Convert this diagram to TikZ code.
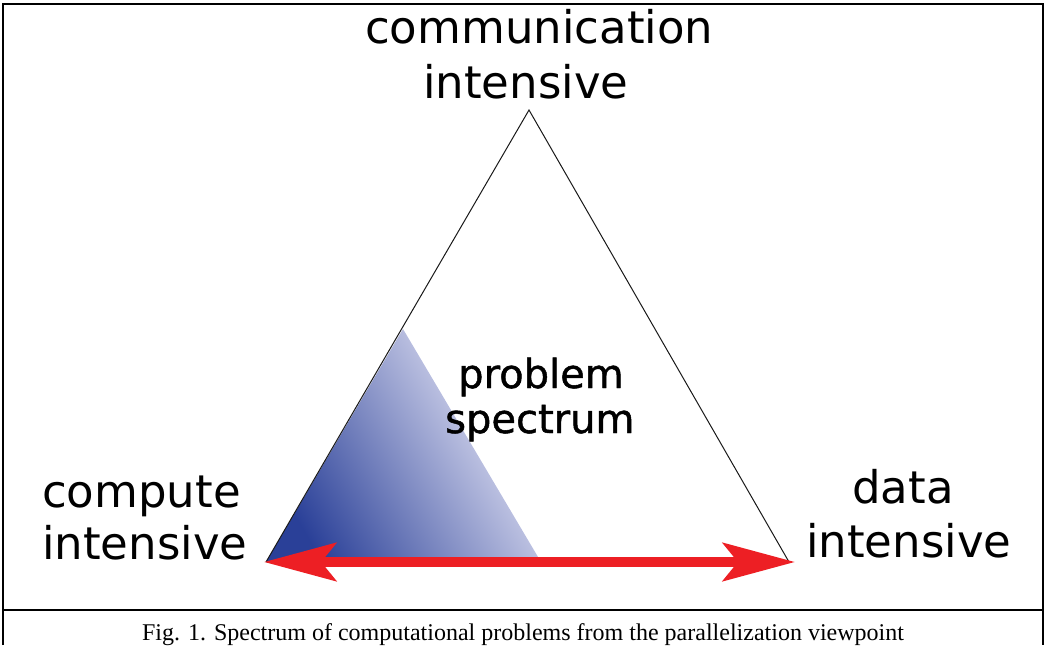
\documentclass[tikz,border=0pt]{standalone}
\usepackage{fontspec}
\setmainfont{Liberation Serif}
\newfontfamily\labfont{DejaVu Sans}
\newfontfamily\plabfont[FakeBold=1.2]{DejaVu Sans}
\usetikzlibrary{arrows.meta}
\definecolor{arrred}{RGB}{237,31,36}
\definecolor{shdark}{RGB}{42,64,152}
\definecolor{shlight}{RGB}{238,237,250}
\begin{document}
\begin{tikzpicture}[x=1pt,y=-1pt,
  lbl/.style={font=\labfont\fontsize{45}{52}\selectfont, anchor=base west, inner sep=0pt},
  plbl/.style={font=\plabfont\fontsize{40}{48}\selectfont, anchor=base west, inner sep=0pt},
  frame/.style={line width=2pt, black},
  tri/.style={line width=1pt, black!90},
  arr/.style={arrred, line width=10pt,
    {Stealth[length=72pt,width=38pt,inset=15pt]}-{Stealth[length=72pt,width=38pt,inset=15pt]}},
  captext/.style={font=\fontsize{24}{28}\selectfont, anchor=base, inner sep=0pt}]
\useasboundingbox (0,0) rectangle (1046,645);
% frame
\draw[frame] (3,645) -- (3,4) -- (1043,4) -- (1043,645);
\draw[frame] (3,610) -- (1043,610);
% corners
\coordinate (T) at (529,110);
\coordinate (L) at (266,562);
\coordinate (R) at (789,562);
\coordinate (G) at (403,329);
\coordinate (H) at (541,562);
\coordinate (AL) at (264,562);
\coordinate (AR) at (795,562);
% shaded region
\shade[left color=shdark, right color=shlight, shading angle=120] (L) -- (G) -- (H) -- cycle;
% triangle
\draw[tri] (L) -- (T) -- (R);
% arrow
\draw[arr] (AL) -- (AR);
% labels
\node[lbl] (c1) at (365,43) {communication};
\node[lbl] (c2) at (423,98) {intensive};
\node[lbl] (p1) at (42,507) {compute};
\node[lbl] (p2) at (42,559) {intensive};
\node[lbl] (d1) at (852,503) {data};
\node[lbl] (d2) at (806,557) {intensive};
\node[plbl] (s1) at (458,388) {problem};
\node[plbl] (s2) at (445,433) {spectrum};
\node[captext] (capt) at (523,640) {Fig. 1. Spectrum of computational problems from the parallelization viewpoint};
\end{tikzpicture}
\end{document}
